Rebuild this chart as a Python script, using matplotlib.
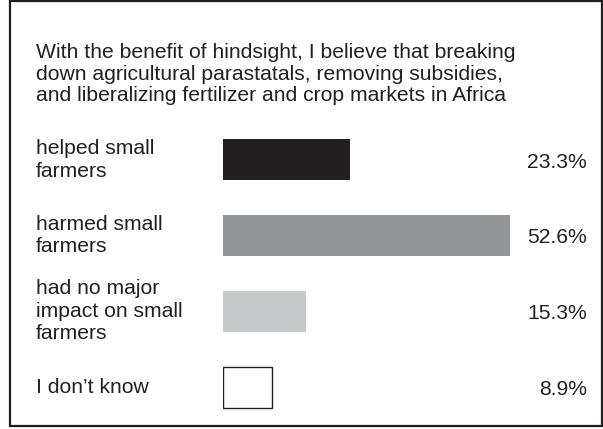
import matplotlib.pyplot as plt
from matplotlib.patches import Rectangle
from matplotlib.transforms import blended_transform_factory

plt.rcParams["font.family"] = ["Liberation Sans", "DejaVu Sans"]

# data
title = ("With the benefit of hindsight, I believe that breaking\n"
         "down agricultural parastatals, removing subsidies,\n"
         "and liberalizing fertilizer and crop markets in Africa")
categories = ["helped small\nfarmers", "harmed small\nfarmers",
              "had no major\nimpact on small\nfarmers", "I don\u2019t know"]
values = [23.3, 52.6, 15.3, 8.9]
labels = ["23.3%", "52.6%", "15.3%", "8.9%"]
colors = ["#231f20", "#939598", "#c7c8ca", "#ffffff"]

W, H = 603, 429
tc = "#231f20"
fs = 15.2

fig = plt.figure(figsize=(W / 100, H / 100), dpi=100)

# bars start at x=223 px, roughly 5.45 px per percent
ax = fig.add_axes([223 / W, 1 - 425 / H, 60 * 5.45 / W, (425 - 122) / H])
ax.barh(range(len(values)), values, height=0.54, color=colors,
        edgecolor=tc, linewidth=[0, 0, 0, 1.0])
ax.set_xlim(0, 60)
ax.set_ylim(3.5, -0.5)
ax.axis("off")

trans = blended_transform_factory(fig.transFigure, ax.transData)
for i, (cat, lab) in enumerate(zip(categories, labels)):
    ax.text(36 / W, i, cat, transform=trans, ha="left", va="center",
            fontsize=fs, color=tc, linespacing=1.24)
    ax.text(587 / W, i + 0.03, lab, transform=trans, ha="right", va="center",
            fontsize=fs, color=tc)

fig.text(36 / W, 1 - 43 / H, title, ha="left", va="top", fontsize=fs,
         color=tc, linespacing=1.18)

# outer frame
fig.patches.append(Rectangle((10 / W, 1 - 426 / H), 592 / W, 425 / H,
                             transform=fig.transFigure, fill=False,
                             edgecolor=tc, linewidth=1.6))

fig.savefig("out.png", dpi=100)
